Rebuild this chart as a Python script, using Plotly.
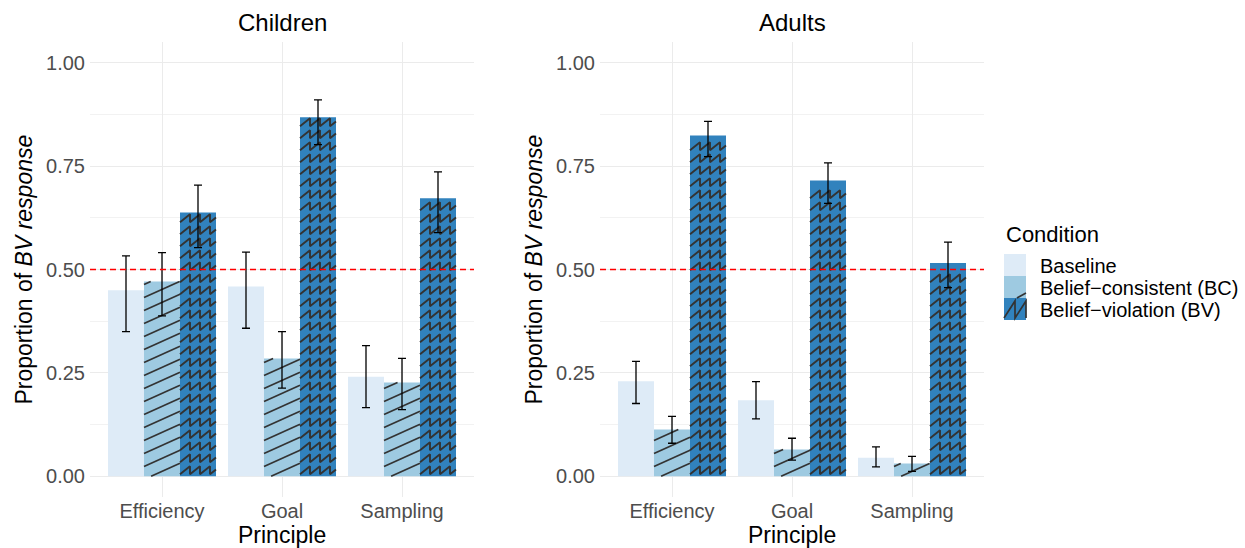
import numpy as np
import plotly.graph_objects as go

# ---------------- data ----------------
principles = ["Efficiency", "Goal", "Sampling"]
conditions = ["Baseline", "Belief−consistent (BC)", "Belief−violation (BV)"]
panels = ["Children", "Adults"]

children_baseline = [0.450, 0.459, 0.241]
children_baseline_hi = [0.533, 0.542, 0.316]
children_baseline_lo = [0.350, 0.358, 0.166]
children_bc = [0.471, 0.285, 0.227]
children_bc_hi = [0.541, 0.350, 0.285]
children_bc_lo = [0.388, 0.213, 0.161]
children_bv = [0.638, 0.868, 0.672]
children_bv_hi = [0.704, 0.910, 0.736]
children_bv_lo = [0.553, 0.802, 0.589]

adults_baseline = [0.230, 0.184, 0.045]
adults_baseline_hi = [0.278, 0.229, 0.071]
adults_baseline_lo = [0.176, 0.139, 0.023]
adults_bc = [0.113, 0.065, 0.031]
adults_bc_hi = [0.145, 0.092, 0.048]
adults_bc_lo = [0.080, 0.039, 0.012]
adults_bv = [0.824, 0.715, 0.516]
adults_bv_hi = [0.858, 0.758, 0.566]
adults_bv_lo = [0.773, 0.660, 0.456]

chance_level = 0.5
y_ticks = [0, 0.25, 0.5, 0.75, 1.0]
y_tick_labels = ["0.00", "0.25", "0.50", "0.75", "1.00"]

# ---------------- style ----------------
colors = ["#DEEBF7", "#9ECAE1", "#3182BD"]
hatch_color = "#333333"
FONT = "Liberation Sans, Arial, Helvetica, sans-serif"
W, H = 1245, 548
dom_x = [[90 / W, 474 / W], [600 / W, 984 / W]]
dom_y = [1 - 497 / H, 1 - 42 / H]
x_range = [-0.6, 2.6]
y_range = [-0.05, 1.05]
bar_w = 0.3
offsets = [-0.3, 0.0, 0.3]

# pixels per data unit (for pattern geometry)
kx = (dom_x[0][1] - dom_x[0][0]) * W / (x_range[1] - x_range[0])
ky = (dom_y[1] - dom_y[0]) * H / (y_range[1] - y_range[0])

data = {
    "Children": [
        (children_baseline, children_baseline_hi, children_baseline_lo),
        (children_bc, children_bc_hi, children_bc_lo),
        (children_bv, children_bv_hi, children_bv_lo),
    ],
    "Adults": [
        (adults_baseline, adults_baseline_hi, adults_baseline_lo),
        (adults_bc, adults_bc_hi, adults_bc_lo),
        (adults_bv, adults_bv_hi, adults_bv_lo),
    ],
}


def diag_hatch_px(Wp, Hp, slope=0.45, spacing=13.0, start=0.0):
    """Diagonal stripes clipped to a Wp x Hp box (pixel units, origin bottom-left)."""
    segs = []
    c = -slope * Wp + start
    while c < Hp:
        p0 = max(0.0, -c / slope)
        p1 = min(Wp, (Hp - c) / slope)
        if p1 > p0:
            segs.append(((p0, c + slope * p0), (p1, c + slope * p1)))
        c += spacing
    return segs


def zigzag_px(Wp, Hp, period=10.0, amp=8.0, spacing=12.0, start=2.0):
    rows = []
    r = start
    while r + amp <= Hp:
        px = 0.0
        pts = [(0.0, r)]
        while px < Wp - 1e-9:
            nx = px + period
            if nx <= Wp:
                pts.append((nx, r + amp))
                pts.append((nx, r))
            else:
                frac = (Wp - px) / period
                pts.append((Wp, r + amp * frac))
            px = nx
        rows.append(pts)
        r += spacing
    return rows


fig = go.Figure()

for pi, panel in enumerate(panels):
    xa = "x" if pi == 0 else "x2"
    ya = "y" if pi == 0 else "y2"
    hx, hy, zx, zy = [], [], [], []
    ex, ey, eplus, eminus = [], [], [], []
    for ci, cond in enumerate(conditions):
        vals, hi, lo = data[panel][ci]
        xpos = [i + offsets[ci] for i in range(len(principles))]
        fig.add_trace(go.Bar(
            x=xpos, y=vals, width=bar_w, marker=dict(color=colors[ci], line=dict(width=0)),
            xaxis=xa, yaxis=ya, showlegend=False, hoverinfo="skip"))
        for xp, v in zip(xpos, vals):
            xl = xp - bar_w / 2
            if ci == 1:
                for (a, b) in diag_hatch_px(bar_w * kx, v * ky):
                    hx += [xl + a[0] / kx, xl + b[0] / kx, None]
                    hy += [a[1] / ky, b[1] / ky, None]
            elif ci == 2:
                for row in zigzag_px(bar_w * kx, v * ky):
                    zx += [xl + p[0] / kx for p in row] + [None]
                    zy += [p[1] / ky for p in row] + [None]
        ex += xpos
        ey += vals
        eplus += [h - v for h, v in zip(hi, vals)]
        eminus += [v - l for l, v in zip(lo, vals)]
    fig.add_trace(go.Scatter(x=hx, y=hy, mode="lines", line=dict(color=hatch_color, width=1.7),
                             xaxis=xa, yaxis=ya, showlegend=False, hoverinfo="skip"))
    fig.add_trace(go.Scatter(x=zx, y=zy, mode="lines", line=dict(color=hatch_color, width=1.9),
                             xaxis=xa, yaxis=ya, showlegend=False, hoverinfo="skip"))
    fig.add_trace(go.Scatter(
        x=ex, y=ey, mode="markers", marker=dict(size=1, opacity=0),
        error_y=dict(type="data", symmetric=False, array=eplus, arrayminus=eminus,
                     color="black", thickness=1.3, width=4),
        xaxis=xa, yaxis=ya, showlegend=False, hoverinfo="skip"))
    # chance line
    fig.add_shape(type="line", xref=f"{xa} domain", yref=ya, x0=0, x1=1,
                  y0=chance_level, y1=chance_level,
                  line=dict(color="#FF0000", width=1.3, dash="6px,4px"))

axis_common = dict(
    range=x_range, tickvals=[0, 1, 2], ticktext=principles, showgrid=True,
    gridcolor="#EBEBEB", gridwidth=1.1, zeroline=False, showline=False,
    ticks="", tickfont=dict(size=20, color="#4D4D4D", family=FONT), fixedrange=True,
)
yaxis_common = dict(
    range=y_range, tickvals=y_ticks, ticktext=y_tick_labels, showgrid=True,
    gridcolor="#EBEBEB", gridwidth=1.1, zeroline=False, showline=False,
    ticks="", tickfont=dict(size=20, color="#4D4D4D", family=FONT),
    ticklabelstandoff=4,
    minor=dict(tickvals=[0.125, 0.375, 0.625, 0.875], showgrid=True,
               gridcolor="#F2F2F2", gridwidth=0.6),
    domain=dom_y, fixedrange=True,
)

fig.update_layout(
    width=W, height=H, margin=dict(l=0, r=0, t=0, b=0),
    paper_bgcolor="white", plot_bgcolor="white",
    barmode="overlay",
    font=dict(family=FONT, color="black"),
    xaxis=dict(domain=dom_x[0], anchor="y", **axis_common),
    xaxis2=dict(domain=dom_x[1], anchor="y2", **axis_common),
    yaxis=dict(anchor="x", **yaxis_common),
    yaxis2=dict(anchor="x2", **yaxis_common),
    showlegend=False,
)

annotations = []
for pi, panel in enumerate(panels):
    cx = (dom_x[pi][0] + dom_x[pi][1]) / 2
    annotations.append(dict(text=panel, x=cx, y=1 - 22 / H, xref="paper", yref="paper",
                            showarrow=False, font=dict(size=24, family=FONT, color="black"),
                            xanchor="center", yanchor="middle"))
    annotations.append(dict(text="Principle", x=cx, y=1 - 535 / H, xref="paper", yref="paper",
                            showarrow=False, font=dict(size=23, family=FONT, color="black"),
                            xanchor="center", yanchor="middle"))
    ytx = 23 if pi == 0 else 533
    annotations.append(dict(text="Proportion of <i>BV response</i>", x=ytx / W,
                            y=(dom_y[0] + dom_y[1]) / 2, xref="paper", yref="paper",
                            textangle=-90, showarrow=False,
                            font=dict(size=23, family=FONT, color="black"),
                            xanchor="center", yanchor="middle"))

# ---------------- manual legend (pixel layout -> paper coords) ----------------
def px(x):
    return x / W


def py(y):
    return 1 - y / H


annotations.append(dict(text="Condition", x=px(1004), y=py(235), xref="paper", yref="paper",
                        showarrow=False, xanchor="left", yanchor="middle",
                        font=dict(size=22, family=FONT, color="black")))
key_x0, key_x1 = 1004, 1026
key_tops = [254, 276, 298]
key_h = 22
text_y = [266, 288, 309.5]
shapes = []
for ci, cond in enumerate(conditions):
    t = key_tops[ci]
    shapes.append(dict(type="rect", xref="paper", yref="paper",
                       x0=px(key_x0), x1=px(key_x1), y0=py(t + key_h), y1=py(t),
                       fillcolor=colors[ci], line=dict(width=0), layer="above"))
    annotations.append(dict(text=cond, x=px(1038), y=py(text_y[ci]), xref="paper", yref="paper",
                            showarrow=False, xanchor="left", yanchor="middle",
                            font=dict(size=20, family=FONT, color="black")))
# BC key stripe
bc_top = key_tops[1]
for (a, b) in diag_hatch_px(key_x1 - key_x0, key_h, slope=0.55, spacing=40, start=5):
    shapes.append(dict(type="line", xref="paper", yref="paper",
                       x0=px(key_x0 + a[0]), y0=py(bc_top + key_h - a[1]),
                       x1=px(key_x0 + b[0]), y1=py(bc_top + key_h - b[1]),
                       line=dict(color=hatch_color, width=1.7), layer="above"))
# BV key zigzag
bv_top = key_tops[2]
for row in zigzag_px(key_x1 - key_x0, key_h, period=11, amp=17, spacing=30, start=2):
    path = " ".join(("M" if i == 0 else "L") + f"{px(key_x0 + p[0]):.5f},{py(bv_top + key_h - p[1]):.5f}"
                    for i, p in enumerate(row))
    shapes.append(dict(type="path", xref="paper", yref="paper", path=path,
                       line=dict(color=hatch_color, width=1.7), layer="above"))

fig.update_layout(annotations=annotations, shapes=list(fig.layout.shapes) + shapes)

fig.write_html("out.html")
